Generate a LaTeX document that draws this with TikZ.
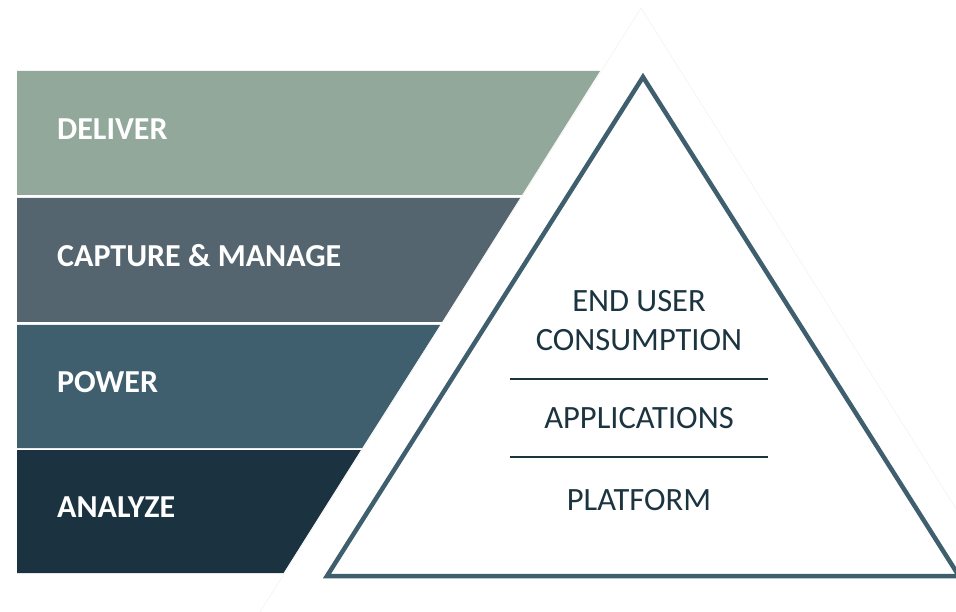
\documentclass[tikz,border=0pt]{standalone}
\usepackage{fontspec}
\setmainfont{Carlito}
\definecolor{cDeliver}{HTML}{91A89A}
\definecolor{cCapture}{HTML}{54656F}
\definecolor{cPower}{HTML}{3F5F6F}
\definecolor{cAnalyze}{HTML}{1B3340}
\definecolor{cTri}{HTML}{3F5F6E}
\definecolor{cText}{HTML}{1C3340}
\tikzset{
  band/.style={draw=none},
  bandlabel/.style={anchor=base west, text=white, font=\fontsize{32}{32}\selectfont\bfseries, inner sep=0pt},
  trilabel/.style={anchor=base, text=cText, font=\fontsize{32.5}{32.5}\selectfont, inner sep=0pt},
  sepline/.style={draw=cText, line width=2pt},
  faint/.style={draw=black!5, line width=0.6pt}
}
\begin{document}
\begin{tikzpicture}[x=1pt,y=-1pt]
\useasboundingbox (0,0) rectangle (956,612);
% bands: right edge x = 600 - 0.629*(y-71)
\fill[band, cDeliver] (17,71) -- (600,71) -- (522,195) -- (17,195) -- cycle;
\fill[band, cCapture] (17,198) -- (520.1,198) -- (442.1,322) -- (17,322) -- cycle;
\fill[band, cPower] (17,325) -- (440.2,325) -- (362.2,448) -- (17,448) -- cycle;
\fill[band, cAnalyze] (17,450) -- (360.9,450) -- (283.5,573) -- (17,573) -- cycle;
% faint outer triangle
\coordinate (oa) at (641,8);
\coordinate (ol) at (260,612);
\coordinate (or) at (1021,612);
\draw[faint] (ol) -- (oa) -- (or);
% inner triangle
\coordinate (ta) at (643,77);
\coordinate (tl) at (327,576);
\coordinate (tr) at (959,576);
\draw[cTri, line width=4.5pt, line join=miter] (ta) -- (tl) -- (tr) -- cycle;
% band labels
\node[bandlabel] (deliver) at (57,140) {DELIVER};
\node[bandlabel] (capture) at (57,267) {CAPTURE \& MANAGE};
\node[bandlabel] (power) at (57,392) {POWER};
\node[bandlabel] (analyze) at (57,517) {ANALYZE};
% triangle labels
\node[trilabel] (end) at (639,312) {END USER};
\node[trilabel] (cons) at (639,351) {CONSUMPTION};
\node[trilabel] (apps) at (639,428) {APPLICATIONS};
\node[trilabel] (plat) at (639,510) {PLATFORM};
\coordinate (s1a) at (510,379);
\coordinate (s1b) at (768,379);
\coordinate (s2a) at (510,457);
\coordinate (s2b) at (768,457);
\draw[sepline] (s1a) -- (s1b);
\draw[sepline] (s2a) -- (s2b);
\end{tikzpicture}
\end{document}
